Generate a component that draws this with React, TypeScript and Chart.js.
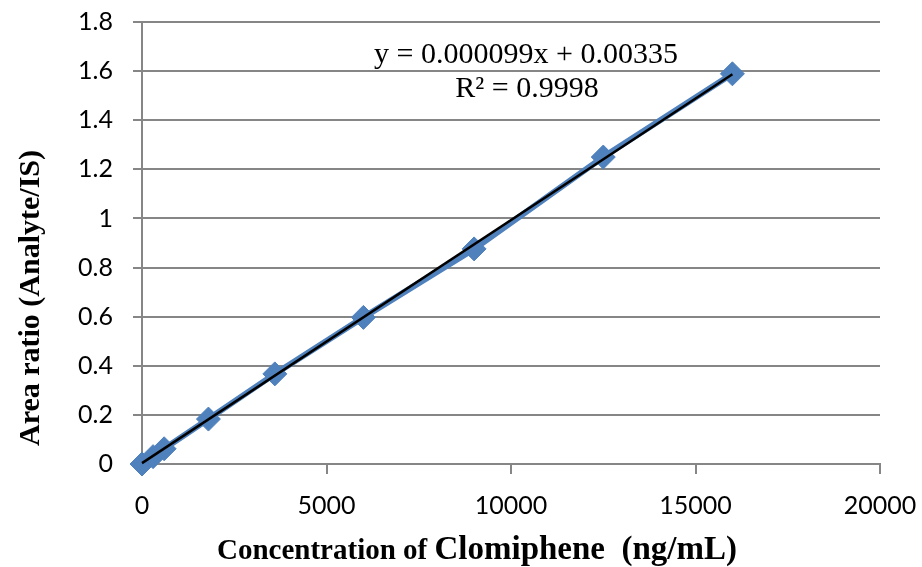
import React, { useEffect, useRef } from "react";
import { Chart, registerables } from "chart.js";

Chart.register(...registerables);

const concentrations = [0, 300, 600, 1800, 3600, 6000, 9000, 12500, 16000];
const areaRatios = [0, 0.03, 0.062, 0.183, 0.367, 0.597, 0.876, 1.25, 1.589];
const trendX = [0, 16000];
const trendY = [0.0034, 1.587];
const equationText = "y = 0.000099x + 0.00335";
const r2Text = "R² = 0.9998";
const xTitleA = "Concentration of ";
const xTitleB = "Clomiphene  (ng/mL)";
const yTitle = "Area ratio (Analyte/IS)";

const SERIF = '"Liberation Serif", "Times New Roman", serif';
const TICK_FONT = 'Lato, "Open Sans", sans-serif';

const textPlugin = {
  id: "textPlugin",
  afterDraw(chart: any) {
    const ctx = chart.ctx;
    ctx.save();
    ctx.fillStyle = "#000";
    ctx.textAlign = "center";
    ctx.textBaseline = "alphabetic";
    ctx.font = `30px ${SERIF}`;
    ctx.fillText(equationText, 526, 63);
    ctx.fillText(r2Text, 527, 97);

    ctx.textAlign = "left";
    ctx.font = `bold 29px ${SERIF}`;
    ctx.fillText(xTitleA, 217, 559);
    const wA = ctx.measureText(xTitleA).width;
    ctx.font = `bold 33px ${SERIF}`;
    ctx.fillText(xTitleB, 217 + wA, 559);

    ctx.translate(39, 298);
    ctx.rotate(-Math.PI / 2);
    ctx.textAlign = "center";
    ctx.font = `bold 30px ${SERIF}`;
    ctx.fillText(yTitle, 0, 0);
    ctx.restore();
  },
};

export default function App() {
  const ref = useRef<HTMLCanvasElement>(null);
  useEffect(() => {
    if (!ref.current) return;
    const gridColor = "#868686";
    const clearPad = (s: any) => {
      s.paddingTop = 0;
      s.paddingBottom = 0;
      s.paddingLeft = 0;
      s.paddingRight = 0;
    };
    const chart = new Chart(ref.current, {
      type: "scatter",
      data: {
        datasets: [
          {
            label: "Trend",
            data: trendX.map((x, i) => ({ x, y: trendY[i] })),
            showLine: true,
            borderColor: "#000000",
            borderWidth: 2.5,
            pointRadius: 0,
            clip: false,
          },
          {
            label: "Data",
            data: concentrations.map((x, i) => ({ x, y: areaRatios[i] })),
            showLine: true,
            borderColor: "#4F81BD",
            backgroundColor: "#4F81BD",
            borderWidth: 6,
            pointStyle: "rectRot",
            pointRadius: 12,
            pointBorderWidth: 1,
            pointBorderColor: "#4F81BD",
            pointBackgroundColor: "#4F81BD",
            clip: false,
          },
        ],
      },
      options: {
        animation: false,
        responsive: false,
        layout: { padding: { top: 22, right: 42, left: 0, bottom: 0 } },
        plugins: { legend: { display: false }, tooltip: { enabled: false } },
        scales: {
          x: {
            type: "linear",
            min: 0,
            max: 20000,
            ticks: {
              stepSize: 5000,
              color: "#000",
              font: { family: TICK_FONT, size: 25 },
              padding: 17,
              maxRotation: 0,
              callback: (v: any) => String(v),
            },
            grid: {
              drawOnChartArea: false,
              drawTicks: true,
              tickLength: 10,
              color: gridColor,
              lineWidth: 2,
            },
            border: { display: true, color: gridColor, width: 2 },
            afterFit: (s: any) => {
              s.height = 103;
              clearPad(s);
            },
          },
          y: {
            min: 0,
            max: 1.8,
            ticks: {
              stepSize: 0.2,
              color: "#000",
              font: { family: TICK_FONT, size: 25 },
              padding: 20,
              callback: (v: any) => String(Number(Number(v).toFixed(1))),
            },
            grid: {
              color: gridColor,
              lineWidth: 2,
              tickLength: 9,
            },
            border: { display: true, color: gridColor, width: 2 },
            afterFit: (s: any) => {
              s.width = 142;
              clearPad(s);
            },
          },
        },
      },
      plugins: [textPlugin],
    });
    return () => chart.destroy();
  }, []);
  return (
    <div style={{ position: "absolute", left: 0, top: 0, width: 922, height: 567, background: "#fff" }}>
      <canvas ref={ref} width={922} height={567} />
    </div>
  );
}
